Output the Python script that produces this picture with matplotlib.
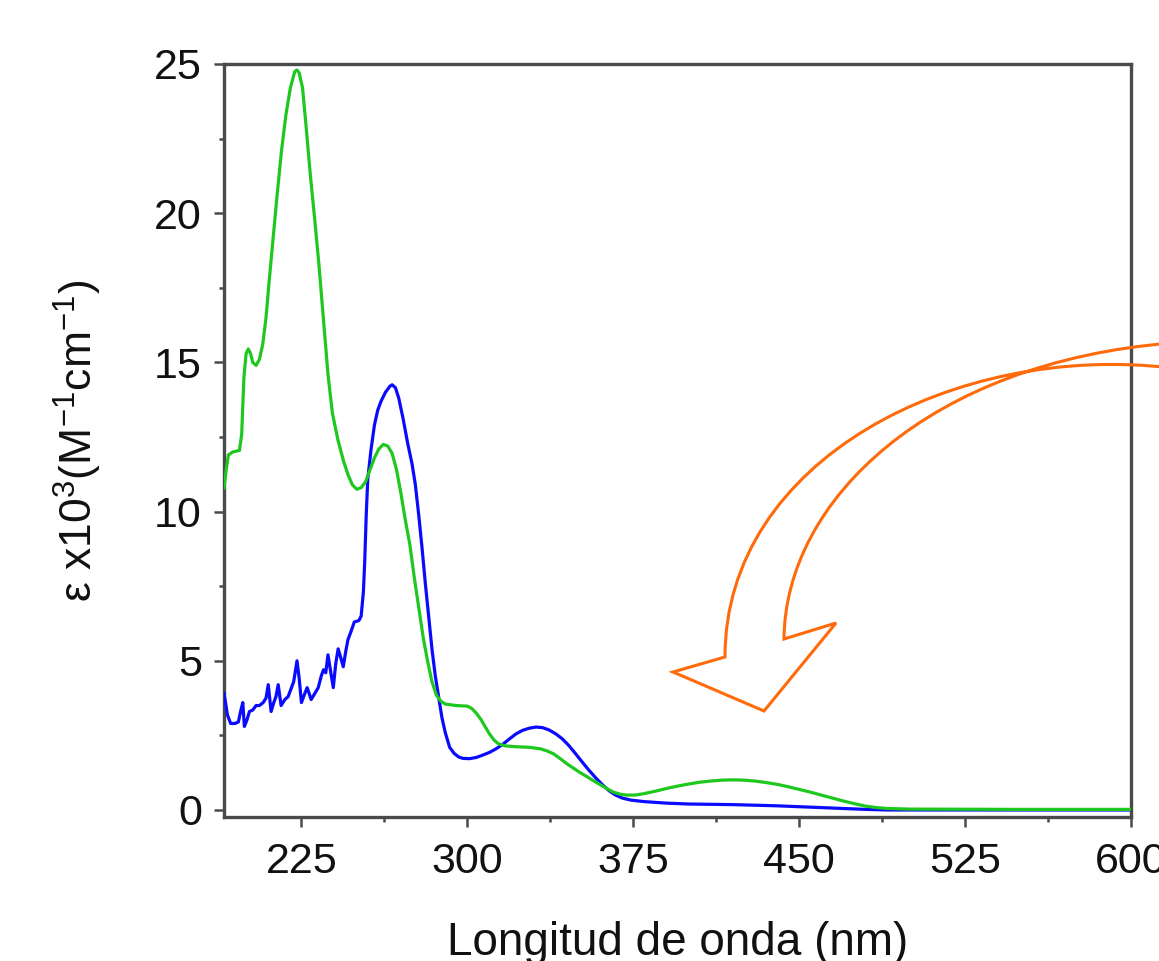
import matplotlib
matplotlib.use("Agg")
import matplotlib.pyplot as plt
from matplotlib.path import Path
from matplotlib.patches import PathPatch
from matplotlib.ticker import MultipleLocator

plt.rcParams['font.family'] = ['Liberation Sans', 'DejaVu Sans']
plt.rcParams['mathtext.fontset'] = 'custom'
plt.rcParams['mathtext.rm'] = 'Liberation Sans'
plt.rcParams['mathtext.it'] = 'Liberation Sans'

# ---- data ----
green_wl = [190, 191, 192, 194, 197, 198, 199, 200, 201, 202, 203, 204.5, 206, 207.5, 209,
            210.5, 212, 214, 216, 218, 220, 222, 223, 224, 225.5, 227, 229, 231, 233, 235,
            237, 239, 241.5, 244, 246, 248, 250, 252, 254, 256, 258, 260, 262, 264, 266,
            268, 270, 272, 274, 276, 278, 280, 282, 284, 286, 288, 290, 295, 300, 302,
            304, 306, 308, 310, 312, 314, 317, 322, 328, 333, 336, 339, 342, 345, 348,
            351, 354, 357, 360, 363, 366, 369, 372, 376, 380, 385, 390, 395, 400, 405,
            410, 415, 420, 425, 430, 435, 440, 445, 450, 455, 460, 465, 470, 475, 480,
            485, 490, 500, 550, 600]
green_eps = [10.8, 11.4, 11.9, 12.0, 12.05, 12.6, 14.5, 15.3, 15.45, 15.3, 15.0, 14.9, 15.1, 15.6, 16.5,
             17.8, 19.0, 20.6, 22.1, 23.3, 24.2, 24.75, 24.8, 24.7, 24.2, 23.0, 21.3, 19.8, 18.2, 16.4,
             14.6, 13.3, 12.4, 11.7, 11.25, 10.9, 10.75, 10.8, 11.0, 11.4, 11.8, 12.1, 12.25, 12.2, 11.95,
             11.4, 10.6, 9.7, 8.9, 7.8, 6.8, 5.8, 5.0, 4.3, 3.85, 3.65, 3.55, 3.5, 3.48, 3.4,
             3.25, 3.05, 2.8, 2.55, 2.35, 2.22, 2.15, 2.12, 2.1, 2.05, 1.98, 1.88, 1.72, 1.55, 1.4,
             1.25, 1.12, 0.98, 0.85, 0.72, 0.6, 0.53, 0.5, 0.5, 0.55, 0.63, 0.72, 0.8, 0.87, 0.93,
             0.97, 1.0, 1.01, 1.0, 0.97, 0.92, 0.86, 0.78, 0.69, 0.6, 0.5, 0.4, 0.3, 0.21, 0.13,
             0.08, 0.05, 0.03, 0.02, 0.02]

blue_wl = [190, 190.7, 191.5, 193, 195, 196.5, 197.5, 198.5, 199.2, 200.3, 201.5, 203, 204.5, 206,
           207.7, 209, 210, 211.3, 212.5, 213.5, 214.5, 215.8, 217.5, 219, 220.5, 221.5, 223, 224,
           225, 226.5, 227.6, 229.4, 231, 232.6, 234, 235, 236, 237, 238.3, 239.4, 240.5, 241.6,
           242.8, 243.9, 245, 246, 247.5, 248.9, 251, 252, 253, 253.6, 254.3, 255, 256.5, 258,
           259.5, 261, 263, 265, 266, 267.5, 269, 271, 273, 275, 276.5, 278, 279.5, 281, 282.5,
           284, 285.5, 287, 288.5, 290, 292, 294, 296, 298, 301, 304, 307, 310, 313, 316, 319,
           322, 325, 328, 331, 334, 337, 340, 343, 346, 349, 352, 355, 358, 361, 364, 367, 370,
           374, 380, 390, 400, 420, 440, 460, 480, 490, 600]
blue_eps = [3.9, 3.6, 3.2, 2.9, 2.9, 2.95, 3.3, 3.6, 2.8, 3.0, 3.3, 3.35, 3.5, 3.5,
            3.6, 3.75, 4.2, 3.3, 3.6, 3.8, 4.2, 3.5, 3.7, 3.8, 4.1, 4.3, 5.0, 4.4,
            3.6, 3.9, 4.1, 3.7, 3.9, 4.1, 4.5, 4.7, 4.6, 5.2, 4.6, 4.1, 4.9, 5.4,
            5.1, 4.8, 5.3, 5.7, 6.0, 6.3, 6.35, 6.5, 7.3, 8.3, 9.9, 11.1, 12.1, 12.9,
            13.4, 13.7, 14.0, 14.2, 14.25, 14.15, 13.8, 13.1, 12.3, 11.6, 10.9, 9.9, 8.8, 7.6, 6.5,
            5.4, 4.5, 3.8, 3.1, 2.6, 2.1, 1.9, 1.78, 1.73, 1.72, 1.76, 1.84, 1.93, 2.05, 2.2, 2.38,
            2.55, 2.67, 2.74, 2.78, 2.76, 2.68, 2.55, 2.38, 2.15, 1.88, 1.6, 1.33, 1.08, 0.85, 0.65, 0.5, 0.4,
            0.33, 0.28, 0.23, 0.2, 0.18, 0.14, 0.08, 0.02, 0.0, 0.0]

x_ticks = [225, 300, 375, 450, 525, 600]
y_ticks = [0, 5, 10, 15, 20, 25]
x_label = "Longitud de onda (nm)"
y_label = "ε x10$^{3}$(M$^{-1}$cm$^{-1}$)"

W, H = 1159, 961
fig = plt.figure(figsize=(W / 100, H / 100), dpi=100)
ax = fig.add_axes([224 / W, 1 - 817 / H, (1131 - 224) / W, (817 - 64) / H])

ax.plot(blue_wl, blue_eps, color='#0a0aff', lw=2.3, zorder=3)
ax.plot(green_wl, green_eps, color='#1ec81e', lw=2.3, zorder=4)

ax.set_xlim(190, 600)
ax.set_ylim(-0.235, 25)
ax.set_xticks(x_ticks)
ax.set_yticks(y_ticks)
ax.xaxis.set_minor_locator(MultipleLocator(37.5))
ax.yaxis.set_minor_locator(MultipleLocator(2.5))

spine_col = '#4a4a4a'
for s in ax.spines.values():
    s.set_color(spine_col)
    s.set_linewidth(2.4)
ax.tick_params(axis='both', which='major', direction='out', length=7, width=1.8,
               color=spine_col, labelsize=31, pad=9, labelcolor='#111111')
ax.tick_params(axis='both', which='minor', direction='out', length=3.5, width=1.8,
               color=spine_col)
ax.tick_params(axis='x', which='major', pad=11)

ax.set_xlabel(x_label, fontsize=33, labelpad=28, color='#111111')
ax.set_ylabel(y_label, fontsize=32, labelpad=36, color='#111111')

# orange curved block arrow (annotation, in figure pixel coordinates)
def P(x, y):
    return (x / W, 1 - y / H)

verts = [P(1172, 368), P(955, 342), P(725, 460), P(725, 657),
         P(673, 672), P(764, 711), P(836, 623), P(784, 639),
         P(785, 500), P(930, 362), P(1172, 343)]
codes = [Path.MOVETO, Path.CURVE4, Path.CURVE4, Path.CURVE4,
         Path.LINETO, Path.LINETO, Path.LINETO, Path.LINETO,
         Path.CURVE4, Path.CURVE4, Path.CURVE4]
arrow = PathPatch(Path(verts, codes), transform=fig.transFigure,
                  facecolor='none', edgecolor='#ff6a0a', lw=2.2, zorder=10)
fig.patches.append(arrow)

fig.savefig('out.png', dpi=100)
